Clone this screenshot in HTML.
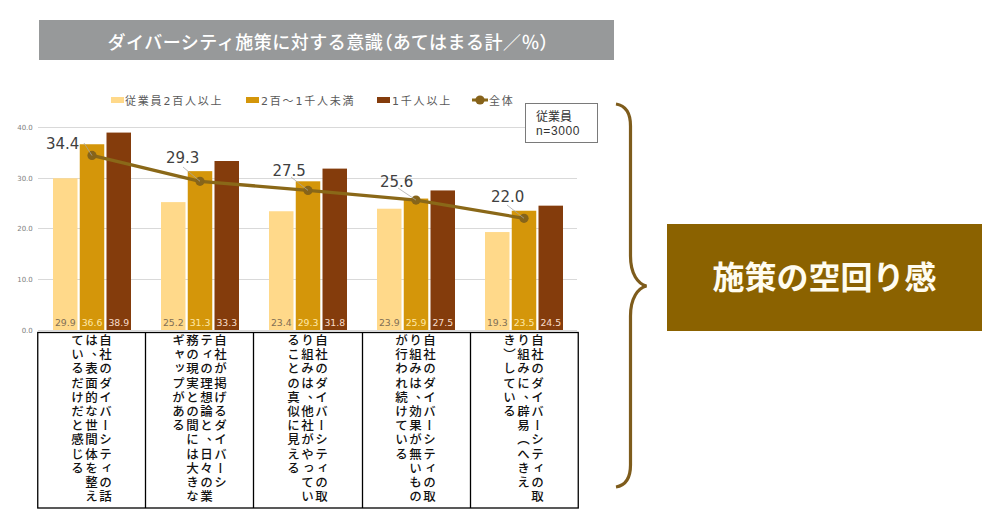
<!DOCTYPE html>
<html lang="ja">
<head>
<meta charset="utf-8">
<style>
html,body{margin:0;padding:0;background:#fff;}
body{width:1000px;height:530px;position:relative;overflow:hidden;font-family:"Liberation Sans","Noto Sans CJK JP",sans-serif;}
.abs{position:absolute;}
#title{left:39px;top:20px;width:575px;height:40px;background:#97999a;color:#fff;font-size:18px;line-height:45px;font-weight:500;letter-spacing:0.5px;text-align:center;white-space:nowrap;overflow:hidden;font-family:"Noto Sans CJK JP",sans-serif;}
#title .p{font-feature-settings:"palt";}
.lg{position:absolute;top:94px;font-family:"DejaVu Sans","Noto Sans CJK JP",sans-serif;font-size:11px;letter-spacing:1.8px;line-height:16px;color:#595959;white-space:nowrap;}
.sw{position:absolute;height:6px;width:12.5px;}
#nbox{left:525px;top:103px;width:71px;height:38px;border:1px solid #7a7a7a;background:#fff;font-size:12px;line-height:14px;color:#333;}
#nbox div{position:absolute;left:10px;}
.tc{position:relative;top:4px;left:-1px;}
.vt{position:absolute;top:334px;writing-mode:vertical-rl;font-family:"Noto Sans CJK JP",sans-serif;font-weight:500;font-size:12.5px;letter-spacing:1.7px;line-height:14px;color:#111;white-space:nowrap;}
#box{left:667px;top:224px;width:315px;height:107px;background:#8b6200;color:#fffcf0;font-weight:bold;font-size:32px;line-height:103px;text-align:center;font-family:"Noto Sans CJK JP",sans-serif;}
</style>
</head>
<body>
<div id="title" class="abs"><span style="position:relative;left:2px;top:-1px">ダイバーシティ施策に対する意識<span class="p">（</span>あてはまる計／％<span class="p">）</span></span></div>

<!-- legend -->
<div class="sw" style="left:111px;top:97px;background:#ffd98a;"></div>
<div class="lg" style="left:125px;">従業員2百人以上</div>
<div class="sw" style="left:246px;top:97px;background:#d4960a;"></div>
<div class="lg" style="left:261px;">2百～1千人未満</div>
<div class="sw" style="left:377px;top:97px;background:#843c0c;"></div>
<div class="lg" style="left:392px;">1千人以上</div>
<svg class="abs" style="left:470px;top:92px" width="20" height="16"><line x1="2" y1="8" x2="18" y2="8" stroke="#8a6818" stroke-width="3"/><circle cx="10" cy="8" r="4.6" fill="#86621a"/></svg>
<div class="lg" style="left:489px;">全体</div>

<!-- chart -->
<svg class="abs" style="left:0;top:0" width="1000" height="530">
  <g stroke="#d9d9d9" stroke-width="1">
    <line x1="38" y1="127.5" x2="577" y2="127.5"/>
    <line x1="38" y1="178.5" x2="577" y2="178.5"/>
    <line x1="38" y1="228.5" x2="577" y2="228.5"/>
    <line x1="38" y1="279.5" x2="577" y2="279.5"/>
    <line x1="38" y1="330.5" x2="577" y2="330.5"/>
  </g>
  <g font-family="DejaVu Sans, sans-serif" font-size="7" fill="#808080" text-anchor="end">
    <text x="32.8" y="130">40.0</text>
    <text x="32.8" y="181">30.0</text>
    <text x="32.8" y="231">20.0</text>
    <text x="32.8" y="282">10.0</text>
    <text x="32.8" y="333">0.0</text>
  </g>
  <g>
<rect x="53.00" y="178.26" width="24.5" height="151.74" fill="#ffd98a"/>
<rect x="79.75" y="144.25" width="24.5" height="185.75" fill="#d4960a"/>
<rect x="106.50" y="132.58" width="24.5" height="197.42" fill="#843c0c"/>
<rect x="161.00" y="202.11" width="24.5" height="127.89" fill="#ffd98a"/>
<rect x="187.75" y="171.15" width="24.5" height="158.85" fill="#d4960a"/>
<rect x="214.50" y="161.00" width="24.5" height="169.00" fill="#843c0c"/>
<rect x="269.00" y="211.25" width="24.5" height="118.75" fill="#ffd98a"/>
<rect x="295.75" y="181.30" width="24.5" height="148.70" fill="#d4960a"/>
<rect x="322.50" y="168.61" width="24.5" height="161.39" fill="#843c0c"/>
<rect x="377.00" y="208.71" width="24.5" height="121.29" fill="#ffd98a"/>
<rect x="403.75" y="198.56" width="24.5" height="131.44" fill="#d4960a"/>
<rect x="430.50" y="190.44" width="24.5" height="139.56" fill="#843c0c"/>
<rect x="485.00" y="232.05" width="24.5" height="97.95" fill="#ffd98a"/>
<rect x="511.75" y="210.74" width="24.5" height="119.26" fill="#d4960a"/>
<rect x="538.50" y="205.66" width="24.5" height="124.34" fill="#843c0c"/>
</g>
<g font-family="DejaVu Sans, sans-serif" font-size="9.3" text-anchor="middle">
<text x="65.25" y="325.6" fill="#7f6f55">29.9</text>
<text x="92.00" y="325.6" fill="#ffe9a6">36.6</text>
<text x="118.75" y="325.6" fill="#f9dccb">38.9</text>
<text x="173.25" y="325.6" fill="#7f6f55">25.2</text>
<text x="200.00" y="325.6" fill="#ffe9a6">31.3</text>
<text x="226.75" y="325.6" fill="#f9dccb">33.3</text>
<text x="281.25" y="325.6" fill="#7f6f55">23.4</text>
<text x="308.00" y="325.6" fill="#ffe9a6">29.3</text>
<text x="334.75" y="325.6" fill="#f9dccb">31.8</text>
<text x="389.25" y="325.6" fill="#7f6f55">23.9</text>
<text x="416.00" y="325.6" fill="#ffe9a6">25.9</text>
<text x="442.75" y="325.6" fill="#f9dccb">27.5</text>
<text x="497.25" y="325.6" fill="#7f6f55">19.3</text>
<text x="524.00" y="325.6" fill="#ffe9a6">23.5</text>
<text x="550.75" y="325.6" fill="#f9dccb">24.5</text>
</g>

<g font-family="DejaVu Sans, sans-serif" font-size="15" fill="#404040">
<text x="46" y="148.5">34.4</text>
<text x="166" y="163">29.3</text>
<text x="272.5" y="175.5">27.5</text>
<text x="380" y="186.6">25.6</text>
<text x="491" y="201.5">22.0</text>
</g>
<polyline points="92.0,155.4 200.0,181.3 308.0,190.4 416.0,200.1 524.0,218.3" fill="none" stroke="#8a6818" stroke-width="3.3" stroke-linejoin="round"/>
<circle cx="92.0" cy="155.4" r="4.6" fill="#86641a"/>
<circle cx="200.0" cy="181.3" r="4.6" fill="#86641a"/>
<circle cx="308.0" cy="190.4" r="4.6" fill="#86641a"/>
<circle cx="416.0" cy="200.1" r="4.6" fill="#86641a"/>
<circle cx="524.0" cy="218.3" r="4.6" fill="#86641a"/>
<g stroke="#a6a6a6" stroke-width="0.75" fill="none">
<line x1="84" y1="143" x2="92" y2="155.6"/>
<line x1="183" y1="167" x2="200" y2="181.3"/>
<line x1="291" y1="177" x2="308" y2="190.4"/>
<line x1="398" y1="188" x2="416" y2="200.1"/>
<line x1="507" y1="205" x2="524" y2="218.3"/>
</g>

</svg>

<div id="nbox" class="abs"><div style="top:6px">従業員</div><div style="top:19.5px;letter-spacing:0.6px">n=3000</div></div>

<!-- table -->
<svg class="abs" style="left:0;top:0" width="1000" height="530">
  <g stroke="#000" stroke-width="1.3" fill="none">
    <rect x="37.75" y="332.5" width="540.5" height="175.5"/>
    <line x1="145.5" y1="332" x2="145.5" y2="508"/>
    <line x1="253.5" y1="332" x2="253.5" y2="508"/>
    <line x1="362.5" y1="332" x2="362.5" y2="508"/>
    <line x1="470.5" y1="332" x2="470.5" y2="508"/>
  </g>
  <path d="M616,104 C625,105.5 630.5,113 630.5,126 L630.5,256 C630.5,274 638,284 646.5,286 C638,288 630.5,298 630.5,316 L630.5,465 C630.5,478 625,485.5 616,487" stroke="#7e5c1c" stroke-width="3.2" fill="none"/>
</svg>

<div class="vt" style="left:70px">自社のダイバーシティの話<br>は<span class="tc">、</span>表面的な世間体を整え<br>ているだけだと感じる</div>
<div class="vt" style="left:171px">自社が掲げるダイバーシ<br>ティの理想論と<span class="tc">、</span>日々の業<br>務の現実との間には大きな<br>ギャップがある</div>
<div class="vt" style="left:286px">自社のダイバーシティの取<br>り組みは<span class="tc">、</span>他社がやってい<br>ることの真似に見える</div>
<div class="vt" style="left:394px">自社のダイバーシティの取<br>り組みは<span class="tc">、</span>効果が無いもの<br>が行われ続けている</div>
<div class="vt" style="left:502px">自社のダイバーシティの取<br>り組みに<span class="tc">、</span>辟易（へきえ<br>き）している</div>

<div id="box" class="abs">施策の空回り感</div>

</body>
</html>
